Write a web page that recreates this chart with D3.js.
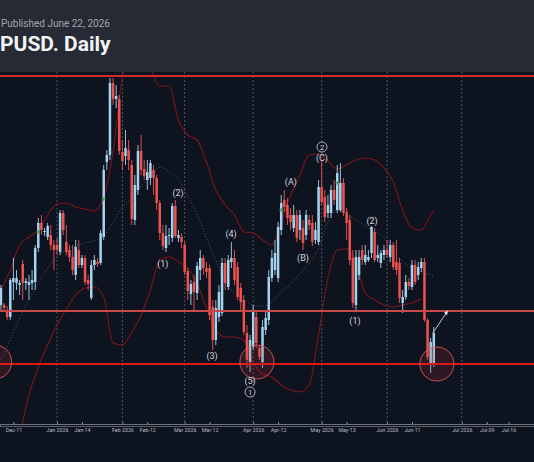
<!DOCTYPE html>
<html><head><meta charset="utf-8">
<script src="https://cdn.jsdelivr.net/npm/d3@7"></script>
<style>
html,body{margin:0;padding:0;background:#0e1320;}
svg{display:block;font-family:Roboto,"Noto Sans",sans-serif;}
</style></head>
<body><svg id="c" width="534" height="462"></svg>
<script>
// ---------------- DATA ----------------
const symbolTitle = "PUSD. Daily";
const publishedText = "Published June 22, 2026";
const firstBarDate = "2025-12-05";
const lastBarDate = "2026-06-22";
const holidays = ["2025-12-25", "2026-01-01"];

const open = [1.3059,1.3059,1.3054,1.3047,1.3082,1.3081,1.3079,1.3100,1.3081,1.3079,1.3081,1.3082,1.3116,1.3141,1.3132,1.3127,1.3129,1.3119,
1.3119,1.3112,1.3151,1.3122,1.3114,1.3107,1.3089,1.3114,1.3099,1.3106,
1.3084,1.3066,1.3099,1.3102,1.3101,1.3127,1.3202,1.3209,1.3281,1.3265,
1.3265,1.3212,1.3208,1.3214,1.3199,1.3144,1.3174,1.3213,1.3195,1.3184,
1.3186,1.3194,1.3186,1.3161,1.3131,1.3116,1.3128,1.3126,1.3158,1.3126,
1.3127,1.3119,1.3093,1.3070,1.3082,1.3071,1.3094,1.3106,1.3096,1.3096,
1.3057,1.3024,1.3047,1.3051,1.3101,1.3077,1.3102,1.3106,1.3097,1.3076,
1.3064,1.3031,1.3002,1.3017,1.3047,1.3016,1.3002,1.3034,1.3044,1.3086,
1.3094,1.3086,1.3134,1.3164,1.3159,1.3149,1.3136,1.3149,1.3134,1.3136,
1.3129,1.3144,1.3141,1.3124,1.3122,1.3177,1.3167,1.3151,1.3151,1.3174,
1.3154,1.3154,1.3181,1.3152,1.3144,1.3106,1.3059,1.3089,1.3114,1.3102,
1.3104,1.3111,1.3132,1.3106,1.3101,1.3109,1.3114,1.3107,1.3119,1.3102,
1.3101,1.3061,1.3067,1.3082,1.3077,1.3099,1.3089,1.3096,1.3102,1.3044,1.2999,1.2999];

const high = [1.3079,1.3061,1.3058,1.3086,1.3106,1.3094,1.3084,1.3104,1.3086,1.3089,1.3094,1.3119,1.3146,1.3149,1.3136,1.3141,1.3139,1.3124,
1.3126,1.3154,1.3154,1.3139,1.3119,1.3119,1.3124,1.3124,1.3109,1.3109,
1.3089,1.3104,1.3109,1.3106,1.3134,1.3199,1.3214,1.3286,1.3286,1.3279,
1.3269,1.3224,1.3234,1.3224,1.3204,1.3189,1.3219,1.3229,1.3204,1.3204,
1.3204,1.3199,1.3189,1.3164,1.3139,1.3139,1.3136,1.3161,1.3164,1.3134,
1.3131,1.3122,1.3096,1.3084,1.3089,1.3102,1.3114,1.3109,1.3102,1.3099,
1.3064,1.3064,1.3079,1.3106,1.3106,1.3109,1.3122,1.3114,1.3102,1.3081,
1.3069,1.3039,1.3029,1.3059,1.3054,1.3019,1.3044,1.3054,1.3094,1.3114,
1.3124,1.3142,1.3169,1.3174,1.3166,1.3156,1.3159,1.3154,1.3154,1.3144,
1.3154,1.3149,1.3149,1.3142,1.3184,1.3204,1.3174,1.3169,1.3179,1.3184,
1.3199,1.3201,1.3186,1.3156,1.3149,1.3114,1.3114,1.3114,1.3119,1.3119,
1.3114,1.3138,1.3136,1.3119,1.3114,1.3119,1.3124,1.3124,1.3122,1.3124,
1.3106,1.3074,1.3089,1.3086,1.3104,1.3104,1.3102,1.3106,1.3106,1.3046,1.3026,1.3037];

const low = [1.3054,1.3052,1.3044,1.3044,1.3064,1.3074,1.3069,1.3064,1.3074,1.3064,1.3074,1.3074,1.3112,1.3129,1.3128,1.3124,1.3114,1.3094,
1.3109,1.3109,1.3129,1.3109,1.3102,1.3089,1.3084,1.3096,1.3096,1.3079,
1.3074,1.3064,1.3094,1.3097,1.3099,1.3124,1.3194,1.3204,1.3259,1.3256,
1.3209,1.3194,1.3199,1.3194,1.3139,1.3139,1.3169,1.3189,1.3184,1.3174,
1.3179,1.3169,1.3154,1.3124,1.3114,1.3112,1.3119,1.3122,1.3126,1.3122,
1.3116,1.3089,1.3064,1.3059,1.3054,1.3064,1.3084,1.3089,1.3086,1.3044,
1.3014,1.3019,1.3042,1.3048,1.3074,1.3074,1.3096,1.3079,1.3064,1.3054,
1.3029,1.2996,1.2992,1.3014,1.3016,1.3004,1.2996,1.3029,1.3039,1.3082,
1.3089,1.3082,1.3129,1.3152,1.3139,1.3134,1.3132,1.3122,1.3124,1.3114,
1.3124,1.3134,1.3118,1.3120,1.3119,1.3159,1.3142,1.3146,1.3146,1.3159,
1.3151,1.3152,1.3148,1.3124,1.3099,1.3056,1.3054,1.3084,1.3099,1.3099,
1.3102,1.3106,1.3102,1.3102,1.3096,1.3104,1.3106,1.3102,1.3094,1.3089,
1.3061,1.3051,1.3064,1.3074,1.3074,1.3079,1.3084,1.3092,1.3042,1.3004,1.2991,1.2997];

const close = [1.3076,1.3056,1.3047,1.3084,1.3086,1.3086,1.3081,1.3081,1.3083,1.3082,1.3084,1.3116,1.3141,1.3134,1.3133,1.3138,1.3119,1.3114,
1.3114,1.3151,1.3134,1.3112,1.3107,1.3094,1.3117,1.3099,1.3106,1.3082,
1.3080,1.3099,1.3104,1.3100,1.3131,1.3194,1.3209,1.3281,1.3265,1.3268,
1.3213,1.3203,1.3216,1.3204,1.3145,1.3179,1.3213,1.3194,1.3188,1.3192,
1.3201,1.3186,1.3161,1.3131,1.3118,1.3128,1.3129,1.3158,1.3128,1.3129,
1.3122,1.3092,1.3073,1.3080,1.3072,1.3098,1.3106,1.3096,1.3092,1.3049,
1.3024,1.3056,1.3072,1.3101,1.3081,1.3104,1.3106,1.3084,1.3067,1.3062,
1.3032,1.3004,1.3024,1.3052,1.3021,1.3007,1.3037,1.3046,1.3087,1.3106,
1.3111,1.3137,1.3161,1.3157,1.3146,1.3142,1.3149,1.3126,1.3149,1.3121,
1.3149,1.3139,1.3122,1.3134,1.3177,1.3162,1.3147,1.3159,1.3174,1.3164,
1.3191,1.3181,1.3151,1.3141,1.3104,1.3061,1.3107,1.3107,1.3104,1.3109,
1.3107,1.3137,1.3104,1.3109,1.3111,1.3114,1.3109,1.3119,1.3097,1.3094,
1.3066,1.3067,1.3082,1.3078,1.3099,1.3082,1.3097,1.3102,1.3044,1.3007,1.3022,1.3031];

// Bollinger band readings (bar number counted from first bar)
const bbBar = [0,3,6,9,12,15,18,21,24,27,30,33,36,39,42,45,48,51,54,57,60,63,66,69,72,75,78,81,84,87,90,93,96,99,102,105,108,111,114,117,120,123,126,129,132,135,138,139];
const bbUpper = [1.3074,1.3094,1.3119,1.3127,1.3134,1.3149,1.3160,1.3161,1.3157,1.3155,1.3153,1.3167,1.3212,1.3286,1.3309,1.3314,1.3296,1.3278,1.3278,1.3244,1.3229,1.3224,1.3202,1.3174,1.3159,1.3149,1.3132,1.3131,1.3124,1.3119,1.3142,1.3169,1.3189,1.3209,1.3210,1.3203,1.3195,1.3199,1.3204,1.3206,1.3204,1.3196,1.3182,1.3154,1.3136,1.3134,1.3149,1.3154];
const bbLower = [1.2864,1.2894,1.2929,1.2969,1.2997,1.3019,1.3039,1.3055,1.3069,1.3076,1.3077,1.3067,1.3021,1.3019,1.3032,1.3049,1.3074,1.3104,1.3107,1.3102,1.3096,1.3081,1.3056,1.3034,1.3027,1.3027,1.3024,1.3002,1.2990,1.2987,1.2979,1.2974,1.2972,1.2979,1.3029,1.3086,1.3114,1.3115,1.3102,1.3071,1.3064,1.3059,1.3057,1.3059,1.3061,1.3065,null,null];
const bbBasis = [1.3004,1.3024,1.3046,1.3064,1.3081,1.3096,1.3107,1.3114,1.3118,1.3121,1.3123,1.3128,1.3142,1.3157,1.3167,1.3178,1.3188,1.3197,1.3192,1.3184,1.3168,1.3149,1.3126,1.3104,1.3082,1.3071,1.3064,1.3059,1.3058,1.3062,1.3072,1.3080,1.3090,1.3101,1.3116,1.3142,1.3154,1.3150,1.3144,1.3138,1.3133,1.3126,1.3114,1.3102,1.3096,1.3092,1.3089,1.3088];

// Horizontal levels
const levelPrices = [1.3288, 1.3053, 1.3000];

// Axis ticks
const tickDates = ["2025-12-11","2026-01-01","2026-01-14","2026-02-01","2026-02-12","2026-03-01","2026-03-12","2026-04-01","2026-04-12","2026-05-01","2026-05-13","2026-06-01","2026-06-11","2026-07-01","2026-07-09","2026-07-16"];
const tickLabels = ["Dec-11","Jan 2026","Jan-14","Feb 2026","Feb-12","Mar 2026","Mar-12","Apr 2026","Apr-12","May 2026","May-13","Jun 2026","Jun-11","Jul 2026","Jul-09","Jul-16"];
const monthStarts = ["2026-01-01","2026-02-01","2026-03-01","2026-04-01","2026-05-01","2026-06-01","2026-07-01"];

// Elliott wave labels
const waveText  = ["(1)","(2)","(3)","(4)","(5)","(A)","(B)","(C)","(1)","(2)"];
const waveBar   = [52.0, 56.9, 67.8, 73.9, 80.0, 93.1, 97.0, 103.1, 113.7, 119.2];
const wavePrice = [1.3100,1.3171,1.3008,1.3130,1.2983,1.3182,1.3106,1.3206,1.3043,1.3143];
const circledText  = ["1","2"];
const circledBar   = [80.0, 103.1];
const circledPrice = [1.2972, 1.3217];

// Support zone circles
const zoneBar   = [-2, 82.2, 140.0];
const zonePrice = [1.3002, 1.3002, 1.3000];

// Projection arrow
const arrowBar   = [138.7, 143.2];
const arrowPrice = [1.3031, 1.3052];

// Band-cross markers
const markBar   = [12, 33, 90, 108];
const markPrice = [1.3132, 1.3165, 1.3154, 1.3181];

// ---------------- LAYOUT ----------------
const W = 534, H = 462;
const headerH = 72, plotTop = 72, plotBottom = 424;
const barStep = 3.114, firstBarOffset = 0.305;

const parse = d3.utcParse("%Y-%m-%d"), fmt = d3.utcFormat("%Y-%m-%d");
const barDates = d3.utcDays(parse(firstBarDate), d3.utcDay.offset(parse(lastBarDate), 1))
  .filter(d => d.getUTCDay() % 6 !== 0 && !holidays.includes(fmt(d)));
const futureDates = d3.utcDays(d3.utcDay.offset(parse(lastBarDate), 1), parse("2026-08-31"));
const slots = barDates.concat(futureDates);
const slotOf = s => d3.bisector(d => d).left(slots, parse(s));

const x = d3.scaleLinear().domain([-firstBarOffset, -firstBarOffset + W / barStep]).range([0, W]);
const y = d3.scaleLinear().domain([1.2944, 1.3292]).range([420, 72]);

const UP = "#a6d4ec", DOWN = "#ef5350";

const svg = d3.select("#c");
svg.append("rect").attr("width", W).attr("height", H).attr("fill", "#0e1320");

const defs = svg.append("defs");
defs.append("clipPath").attr("id", "plot").append("rect")
  .attr("x", 0).attr("y", plotTop).attr("width", W).attr("height", plotBottom - plotTop);
defs.append("marker").attr("id", "arr").attr("viewBox", "0 0 10 10").attr("refX", 5).attr("refY", 5)
  .attr("markerWidth", 5).attr("markerHeight", 5).attr("orient", "auto")
  .append("path").attr("d", "M0,1 L9,5 L0,9 Z").attr("fill", "#e8e8ee");

const g = svg.append("g").attr("clip-path", "url(#plot)");

// month dotted lines
g.selectAll("line.month").data(monthStarts).join("line")
  .attr("x1", d => x(slotOf(d))).attr("x2", d => x(slotOf(d)))
  .attr("y1", plotTop).attr("y2", plotBottom)
  .attr("stroke", "#4b5161").attr("stroke-width", 1).attr("stroke-dasharray", "2,2");

// Bollinger bands
const bbPts = arr => bbBar.map((b, i) => ({b, v: arr[i]}));
const bandLine = d3.line().defined(d => d.v != null).x(d => x(d.b)).y(d => y(d.v)).curve(d3.curveMonotoneX);
g.append("path").attr("d", bandLine(bbPts(bbBasis))).attr("fill", "none")
  .attr("stroke", "#566073").attr("stroke-width", 0.9).attr("stroke-dasharray", "1,2");
[bbUpper, bbLower].forEach(a => g.append("path").attr("d", bandLine(bbPts(a))).attr("fill", "none")
  .attr("stroke", "#7d1419").attr("stroke-width", 1.1));

// candles
const bars = barDates.map((d, i) => ({i, o: open[i], h: high[i], l: low[i], c: close[i]}));
const col = d => d.c >= d.o ? UP : DOWN;
g.selectAll("line.wick").data(bars).join("line")
  .attr("x1", d => x(d.i)).attr("x2", d => x(d.i))
  .attr("y1", d => y(d.h)).attr("y2", d => y(d.l))
  .attr("stroke", col).attr("stroke-width", 0.9);
const bw = barStep * 0.8;
g.selectAll("rect.body").data(bars).join("rect")
  .attr("x", d => x(d.i) - bw / 2).attr("width", bw)
  .attr("y", d => y(Math.max(d.o, d.c)))
  .attr("height", d => Math.max(1, Math.abs(y(d.o) - y(d.c))))
  .attr("fill", col);

// green markers
markBar.forEach((b, i) => {
  g.append("line").attr("x1", x(b) - 2).attr("x2", x(b) + 2).attr("y1", y(markPrice[i])).attr("y2", y(markPrice[i]))
    .attr("stroke", "#3c9a4a").attr("stroke-width", 1);
  g.append("line").attr("x1", x(b)).attr("x2", x(b)).attr("y1", y(markPrice[i]) - 2).attr("y2", y(markPrice[i]) + 2)
    .attr("stroke", "#3c9a4a").attr("stroke-width", 1);
});

// levels
const levelColors = ["#d42a2a", "#c94848", "#e01616"];
levelPrices.forEach((p, i) => g.append("line").attr("x1", 0).attr("x2", W)
  .attr("y1", y(p)).attr("y2", y(p)).attr("stroke", levelColors[i]).attr("stroke-width", 2));

// zone circles
zoneBar.forEach((b, i) => g.append("circle").attr("cx", x(b)).attr("cy", y(zonePrice[i])).attr("r", 17)
  .attr("fill", "rgba(190,50,55,0.18)").attr("stroke", "rgba(225,90,90,0.85)").attr("stroke-width", 1));

// arrow
g.append("line").attr("x1", x(arrowBar[0])).attr("y1", y(arrowPrice[0]))
  .attr("x2", x(arrowBar[1])).attr("y2", y(arrowPrice[1]))
  .attr("stroke", "#c8cad2").attr("stroke-width", 1).attr("marker-end", "url(#arr)");

// wave labels
waveText.forEach((t, i) => g.append("text").attr("x", x(waveBar[i])).attr("y", y(wavePrice[i]))
  .attr("text-anchor", "middle").attr("dominant-baseline", "central")
  .attr("font-size", 9).attr("fill", "#d4d7de").text(t));
circledText.forEach((t, i) => {
  g.append("circle").attr("cx", x(circledBar[i])).attr("cy", y(circledPrice[i])).attr("r", 5)
    .attr("fill", "#0e1320").attr("stroke", "#d4d7de").attr("stroke-width", 0.8);
  g.append("text").attr("x", x(circledBar[i])).attr("y", y(circledPrice[i]) + 0.3)
    .attr("text-anchor", "middle").attr("dominant-baseline", "central")
    .attr("font-size", 7.5).attr("fill", "#d4d7de").text(t);
});

// header
svg.append("rect").attr("width", W).attr("height", headerH).attr("fill", "#262a35");
svg.append("text").attr("x", 1).attr("y", 27)
  .attr("font-size", 10).attr("fill", "#a2a5ae").text(publishedText);
svg.append("text").attr("x", 0).attr("y", 51)
  .attr("font-size", 21).attr("font-weight", 700).attr("fill", "#f2f3f5").text(symbolTitle);

// x axis
const axis = d3.axisBottom(x).tickValues(tickDates.map(slotOf))
  .tickFormat((d, i) => tickLabels[i]).tickSize(2).tickPadding(2.5);
const ax = svg.append("g").attr("transform", `translate(0,${plotBottom})`).call(axis);
ax.select(".domain").attr("stroke", "#6e737e");
ax.selectAll(".tick line").attr("stroke", "#8b909b").attr("y1", -2).attr("y2", 0);
ax.selectAll(".tick text").attr("fill", "#b8bcc4").attr("font-size", 5.3)
  .attr("font-family", "Roboto, sans-serif");
svg.append("line").attr("x1", 0).attr("x2", W).attr("y1", plotBottom + 2.5).attr("y2", plotBottom + 2.5)
  .attr("stroke", "#5a5f6a").attr("stroke-width", 1);
</script>
</body></html>
